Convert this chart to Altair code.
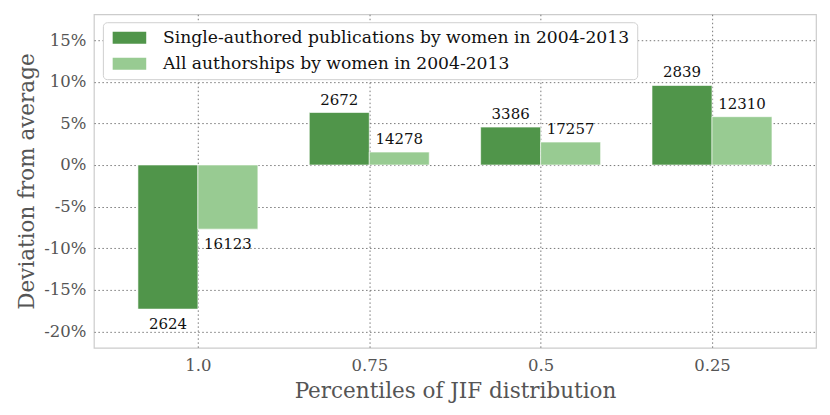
import altair as alt
import pandas as pd

categories = ["1.0", "0.75", "0.5", "0.25"]
series_names = ["Single-authored publications by women in 2004-2013",
                "All authorships by women in 2004-2013"]
single_vals = [-17.3, 6.3, 4.55, 9.55]
all_vals = [-7.7, 1.55, 2.75, 5.8]
single_counts = [2624, 2672, 3386, 2839]
all_counts = [16123, 14278, 17257, 12310]
colors = ["#50954a", "#98cb92"]

BW = 0.35
rows = []
for i, c in enumerate(categories):
    for s, (vals, cnts) in enumerate([(single_vals, single_counts), (all_vals, all_counts)]):
        x0 = i - BW if s == 0 else i
        rows.append({"idx": i, "series": series_names[s], "x0": x0, "x1": x0 + BW,
                     "xm": x0 + BW / 2, "val": vals[i], "cnt": str(cnts[i]),
                     "pos": vals[i] >= 0})
df = pd.DataFrame(rows)

label_expr = "[" + ",".join("'%s'" % c for c in categories) + "][datum.value]"

xscale = alt.Scale(domain=[-0.607, 3.607], nice=False, zero=False)
yscale = alt.Scale(domain=[-21.95, 18.1], nice=False)

base = alt.Chart(df)

bars = base.mark_bar(stroke="white", strokeWidth=1, strokeOpacity=0.6).encode(
    x=alt.X("x0:Q", scale=xscale,
            axis=alt.Axis(values=[0, 1, 2, 3], labelExpr=label_expr,
                          title="Percentiles of JIF distribution")),
    x2="x1:Q",
    y=alt.Y("val:Q", scale=yscale,
            axis=alt.Axis(values=[-20, -15, -10, -5, 0, 5, 10, 15],
                          labelExpr="datum.value + '%'",
                          title="Deviation from average")),
    y2=alt.datum(0),
    color=alt.Color("series:N", sort=series_names,
                    scale=alt.Scale(domain=series_names, range=colors),
                    legend=alt.Legend(title=None, orient="none", legendX=9, legendY=8,
                                      symbolType="M-2.8,-1H2.8V1H-2.8Z",
                                      symbolSize=144, symbolStrokeWidth=0,
                                      labelFontSize=17.2, labelFont="DejaVu Serif",
                                      labelColor="#111", rowPadding=8,
                                      fillColor="white", strokeColor="#d0d0d0",
                                      cornerRadius=4, padding=7, labelLimit=600,
                                      symbolOffset=11, labelOffset=25)),
)

text_pos = base.transform_filter("datum.pos").mark_text(
    baseline="bottom", dy=-5, fontSize=15, font="DejaVu Serif", color="#111"
).encode(x=alt.X("xm:Q", scale=xscale), y=alt.Y("val:Q", scale=yscale), text="cnt:N")

text_neg = base.transform_filter("!datum.pos").mark_text(
    baseline="top", dy=8, fontSize=15, font="DejaVu Serif", color="#111"
).encode(x=alt.X("xm:Q", scale=xscale), y=alt.Y("val:Q", scale=yscale), text="cnt:N")

chart = alt.layer(bars, text_pos, text_neg).properties(
    width=723, height=334,
    autosize=alt.AutoSizeParams(type="none"),
    padding={"left": 86, "top": 6, "right": 6, "bottom": 60},
).configure_view(
    stroke="#cccccc", strokeWidth=1.2
).configure_axis(
    grid=True, gridColor="#777777", gridDash=[1.5, 2.5], gridWidth=1,
    domain=False, ticks=False, labelFont="DejaVu Serif", labelFontSize=16.5,
    labelColor="#555555", titleFont="DejaVu Serif", titleFontSize=21.5,
    titleColor="#555555", titleFontWeight="normal", labelPadding=8
).configure_axisX(titlePadding=6, labelPadding=10).configure_axisY(titlePadding=5)

chart.save("out.html", embed_options={"renderer": "svg", "actions": False})
